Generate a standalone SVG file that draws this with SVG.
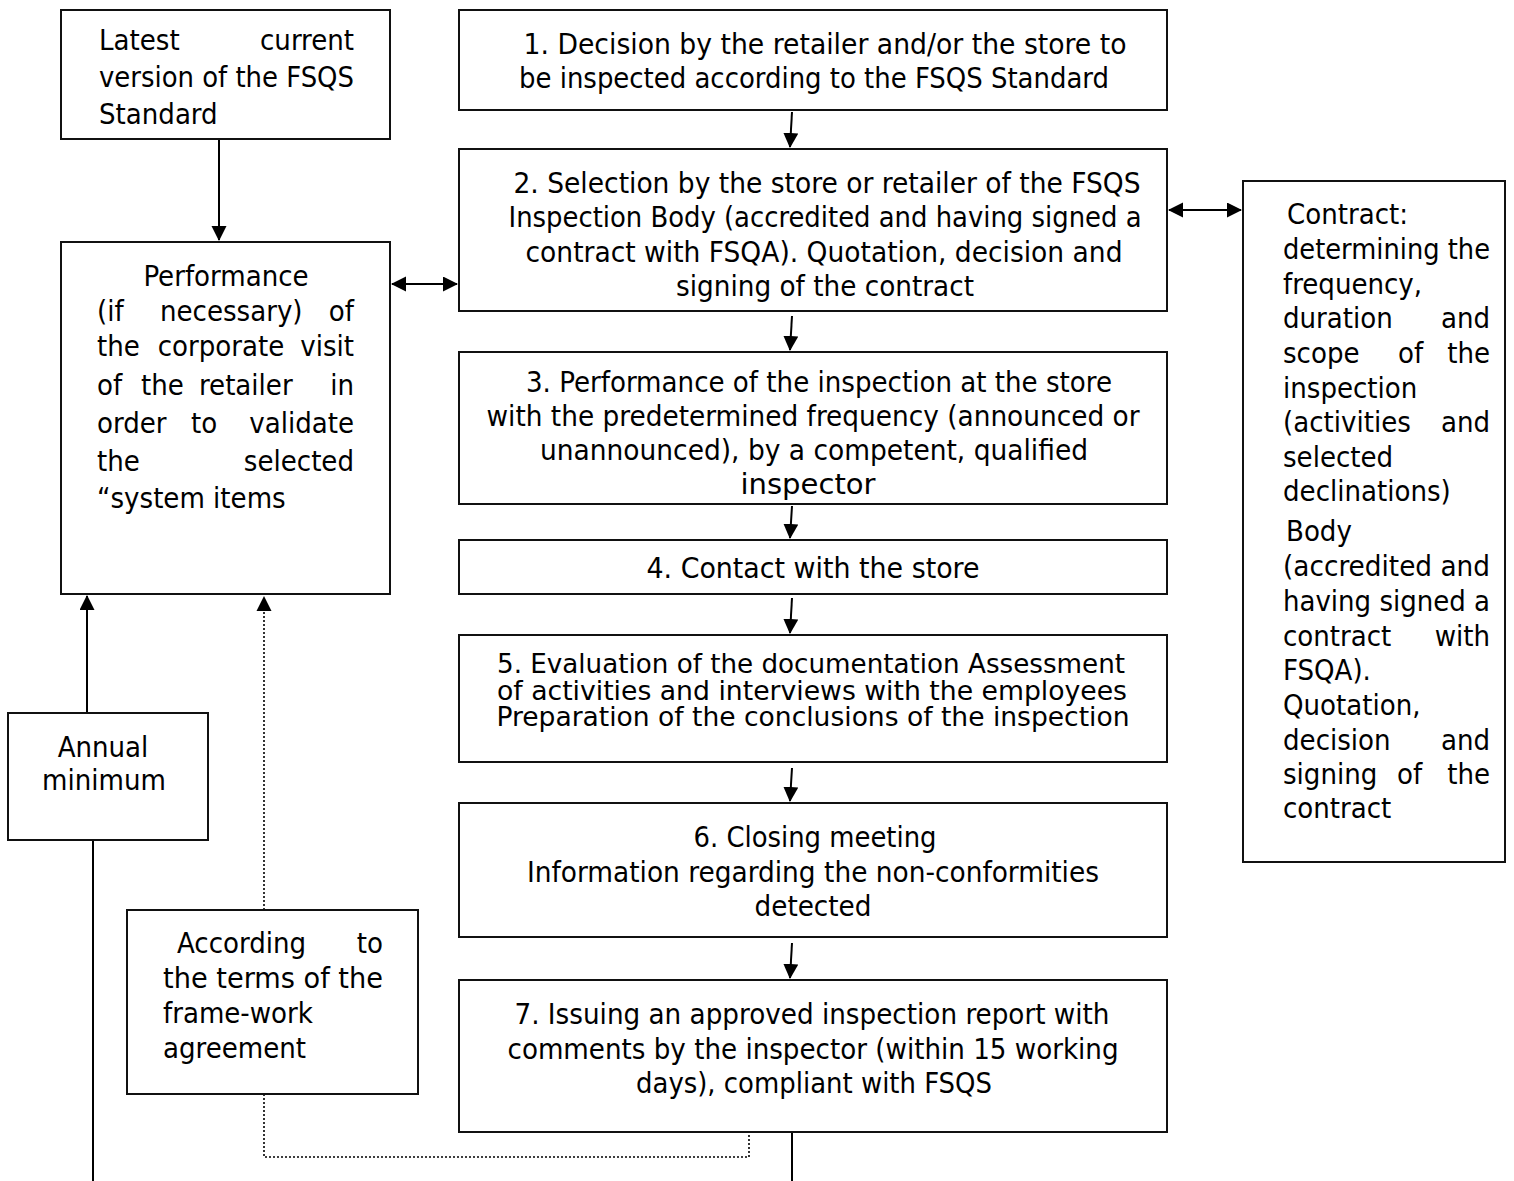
<svg xmlns="http://www.w3.org/2000/svg" width="1514" height="1181" viewBox="0 0 1514 1181">
<style>
.b{fill:#fff;stroke:#111;stroke-width:2}
.t{font-family:"DejaVu Sans Condensed","DejaVu Sans",sans-serif;font-stretch:condensed;font-size:29px;fill:#000}
.s{font-size:26px}
.m{text-anchor:middle}
.e{text-anchor:end}
.c{fill:none;stroke:#000;stroke-width:2}
.d{fill:none;stroke:#000;stroke-width:1.6;stroke-dasharray:2 2}
</style>
<defs>
<marker id="ah" markerUnits="userSpaceOnUse" markerWidth="16" markerHeight="16" refX="14" refY="7.5" orient="auto-start-reverse"><path d="M0,0 L15,7.5 L0,15 z" fill="#000"/></marker>
</defs>
<rect width="1514" height="1181" fill="#fff"/>
<g id="connectors">
<path class="c" d="M219,139 V240" marker-end="url(#ah)"/>
<path class="c" d="M392,284 H457" marker-start="url(#ah)" marker-end="url(#ah)"/>
<path class="c" d="M1169,210 H1241" marker-start="url(#ah)" marker-end="url(#ah)"/>
<path class="c" d="M792,112 L790,147" marker-end="url(#ah)"/>
<path class="c" d="M792,316 L790,350" marker-end="url(#ah)"/>
<path class="c" d="M792,506 L790,538" marker-end="url(#ah)"/>
<path class="c" d="M792,598 L790,633" marker-end="url(#ah)"/>
<path class="c" d="M792,768 L790,801" marker-end="url(#ah)"/>
<path class="c" d="M792,943 L790,978" marker-end="url(#ah)"/>
<path class="c" d="M792,1132 V1181"/>
<path class="c" d="M87,713 V596" marker-end="url(#ah)"/>
<path class="c" d="M93,840 V1181"/>
<path class="d" d="M264,910 V598"/>
<path d="M256.5,611 L264,596 L271.5,611 z" fill="#000"/>
<path class="d" d="M264,1094 V1157 H749 V1132"/>
</g>
<g id="n-latest">
<rect class="b" x="61" y="10" width="329" height="129"/>
<text class="t" x="99" y="50">Latest</text><text class="t e" x="354" y="50">current</text>
<text class="t" x="99" y="87" textLength="255" lengthAdjust="spacingAndGlyphs">version of the FSQS</text>
<text class="t" x="99" y="124">Standard</text>
</g>
<g id="n-performance">
<rect class="b" x="61" y="242" width="329" height="352"/>
<text class="t m" x="226" y="286">Performance</text>
<text class="t" x="97" y="321">(if</text><text class="t" x="160" y="321">necessary)</text><text class="t e" x="354" y="321">of</text>
<text class="t" x="97" y="356">the</text><text class="t m" x="221" y="356">corporate</text><text class="t e" x="354" y="356">visit</text>
<text class="t" x="97" y="395">of</text><text class="t" x="141" y="395">the</text><text class="t" x="199" y="395">retailer</text><text class="t e" x="354" y="395">in</text>
<text class="t" x="97" y="433">order</text><text class="t m" x="204" y="433">to</text><text class="t e" x="354" y="433">validate</text>
<text class="t" x="97" y="471">the</text><text class="t e" x="354" y="471">selected</text>
<text class="t" x="97" y="508">“system items</text>
</g>
<g id="n-annual">
<rect class="b" x="8" y="713" width="200" height="127"/>
<text class="t m" x="103" y="757">Annual</text>
<text class="t m" x="104" y="790">minimum</text>
</g>
<g id="n-according">
<rect class="b" x="127" y="910" width="291" height="184"/>
<text class="t" x="177" y="953">According</text><text class="t e" x="383" y="953">to</text>
<text class="t" x="163" y="988" textLength="220" lengthAdjust="spacingAndGlyphs">the terms of the</text>
<text class="t" x="163" y="1023">frame-work</text>
<text class="t" x="163" y="1058">agreement</text>
</g>
<g id="n-step1">
<rect class="b" x="459" y="10" width="708" height="100"/>
<text class="t m" x="825" y="54" textLength="603" lengthAdjust="spacingAndGlyphs">1. Decision by the retailer and/or the store to</text>
<text class="t m" x="814" y="88" textLength="590" lengthAdjust="spacingAndGlyphs">be inspected according to the FSQS Standard</text>
</g>
<g id="n-step2">
<rect class="b" x="459" y="149" width="708" height="162"/>
<text class="t m" x="827" y="193" textLength="627" lengthAdjust="spacingAndGlyphs">2. Selection by the store or retailer of the FSQS</text>
<text class="t m" x="825" y="227" textLength="633" lengthAdjust="spacingAndGlyphs">Inspection Body (accredited and having signed a</text>
<text class="t m" x="824" y="262" textLength="597" lengthAdjust="spacingAndGlyphs">contract with FSQA). Quotation, decision and</text>
<text class="t m" x="825" y="296" textLength="298" lengthAdjust="spacingAndGlyphs">signing of the contract</text>
</g>
<g id="n-step3">
<rect class="b" x="459" y="352" width="708" height="152"/>
<text class="t m" x="819" y="392" textLength="586" lengthAdjust="spacingAndGlyphs">3. Performance of the inspection at the store</text>
<text class="t m" x="813" y="426" textLength="653" lengthAdjust="spacingAndGlyphs">with the predetermined frequency (announced or</text>
<text class="t m" x="814" y="460" textLength="548" lengthAdjust="spacingAndGlyphs">unannounced), by a competent, qualified</text>
<text class="t m" x="808" y="494" textLength="135" lengthAdjust="spacingAndGlyphs">inspector</text>
</g>
<g id="n-step4">
<rect class="b" x="459" y="540" width="708" height="54"/>
<text class="t m" x="813" y="578" textLength="333" lengthAdjust="spacingAndGlyphs">4. Contact with the store</text>
</g>
<g id="n-step5">
<rect class="b" x="459" y="635" width="708" height="127"/>
<text class="t s m" x="811" y="673" textLength="628" lengthAdjust="spacingAndGlyphs">5. Evaluation of the documentation Assessment</text>
<text class="t s m" x="812" y="700" textLength="630" lengthAdjust="spacingAndGlyphs">of activities and interviews with the employees</text>
<text class="t s m" x="813" y="726" textLength="633" lengthAdjust="spacingAndGlyphs">Preparation of the conclusions of the inspection</text>
</g>
<g id="n-step6">
<rect class="b" x="459" y="803" width="708" height="134"/>
<text class="t m" x="815" y="847" textLength="243" lengthAdjust="spacingAndGlyphs">6. Closing meeting</text>
<text class="t m" x="813" y="882" textLength="572" lengthAdjust="spacingAndGlyphs">Information regarding the non-conformities</text>
<text class="t m" x="813" y="916" textLength="117" lengthAdjust="spacingAndGlyphs">detected</text>
</g>
<g id="n-step7">
<rect class="b" x="459" y="980" width="708" height="152"/>
<text class="t m" x="812" y="1024" textLength="595" lengthAdjust="spacingAndGlyphs">7. Issuing an approved inspection report with</text>
<text class="t m" x="813" y="1059" textLength="611" lengthAdjust="spacingAndGlyphs">comments by the inspector (within 15 working</text>
<text class="t m" x="814" y="1093" textLength="356" lengthAdjust="spacingAndGlyphs">days), compliant with FSQS</text>
</g>
<g id="n-contract">
<rect class="b" x="1243" y="181" width="262" height="681"/>
<text class="t" x="1287" y="224">Contract:</text>
<text class="t" x="1283" y="259" textLength="207" lengthAdjust="spacingAndGlyphs">determining the</text>
<text class="t" x="1283" y="294">frequency,</text>
<text class="t" x="1283" y="328">duration</text><text class="t e" x="1490" y="328">and</text>
<text class="t" x="1283" y="363">scope</text><text class="t" x="1398" y="363">of</text><text class="t e" x="1490" y="363">the</text>
<text class="t" x="1283" y="398">inspection</text>
<text class="t" x="1283" y="432">(activities</text><text class="t e" x="1490" y="432">and</text>
<text class="t" x="1283" y="467">selected</text>
<text class="t" x="1283" y="501">declinations)</text>
<text class="t" x="1286" y="541">Body</text>
<text class="t" x="1283" y="576" textLength="207" lengthAdjust="spacingAndGlyphs">(accredited and</text>
<text class="t" x="1283" y="611" textLength="207" lengthAdjust="spacingAndGlyphs">having signed a</text>
<text class="t" x="1283" y="646">contract</text><text class="t e" x="1490" y="646">with</text>
<text class="t" x="1283" y="680">FSQA).</text>
<text class="t" x="1283" y="715">Quotation,</text>
<text class="t" x="1283" y="750">decision</text><text class="t e" x="1490" y="750">and</text>
<text class="t" x="1283" y="784">signing</text><text class="t" x="1397" y="784">of</text><text class="t e" x="1490" y="784">the</text>
<text class="t" x="1283" y="818">contract</text>
</g>
</svg>
